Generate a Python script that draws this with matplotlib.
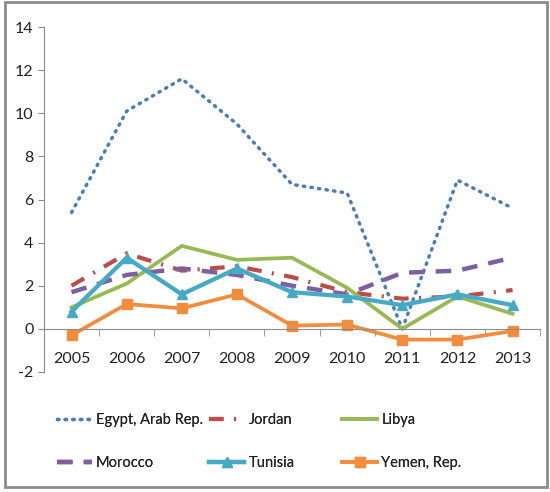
import numpy as np
import matplotlib
matplotlib.use("Agg")
import matplotlib.pyplot as plt
from matplotlib.patches import Rectangle

plt.rcParams["font.family"] = ["Lato", "DejaVu Sans"]
plt.rcParams["axes.unicode_minus"] = False

years = ["2005", "2006", "2007", "2008", "2009", "2010", "2011", "2012", "2013"]
egypt = [5.4, 10.1, 11.6, 9.5, 6.7, 6.3, 0.0, 6.9, 5.6]
jordan = [2.0, 3.5, 2.7, 2.9, 2.4, 1.7, 1.4, 1.5, 1.8]
libya = [1.0, 2.1, 3.85, 3.2, 3.3, 1.9, 0.0, 1.5, 0.7]
morocco = [1.7, 2.5, 2.8, 2.5, 2.0, 1.6, 2.6, 2.7, 3.3]
tunisia = [0.8, 3.3, 1.6, 2.8, 1.7, 1.5, 1.1, 1.6, 1.1]
yemen = [-0.3, 1.15, 0.95, 1.6, 0.15, 0.2, -0.5, -0.5, -0.1]

x = np.arange(len(years))

fig = plt.figure(figsize=(5.5, 4.92), dpi=100)
fig.patches.append(Rectangle((0.009, 0.01), 0.985, 0.985, transform=fig.transFigure,
                             fill=False, edgecolor="#8c8c8c", linewidth=2))
ax = fig.add_axes([0.08, 0.244, 0.902, 0.701])

h_eg, = ax.plot(x, egypt, color="#4A7EBB", linewidth=2.5, linestyle=(0, (0.4, 1.8)),
                dash_capstyle="round", label="Egypt, Arab Rep.")
h_jo, = ax.plot(x, jordan, color="#BE4B48", linewidth=3, linestyle=(0, (3.5, 2.5, 0.5, 2.5)),
                label="Jordan")
h_li, = ax.plot(x, libya, color="#98B954", linewidth=2.7, label="Libya")
h_mo, = ax.plot(x, morocco, color="#7D60A0", linewidth=3.2, linestyle=(0, (3.5, 2.5)),
                label="Morocco")
h_tu, = ax.plot(x, tunisia, color="#46AAC5", linewidth=3.1, marker="^", markersize=7.5,
                label="Tunisia")
h_ye, = ax.plot(x, yemen, color="#F38D3D", linewidth=2.7, marker="s", markersize=7.5,
                label="Yemen, Rep.")

ax.set_xlim(-0.5, len(years) - 0.5)
ax.set_ylim(-2, 14)
ax.set_yticks(range(-2, 15, 2))

for s in ["top", "right"]:
    ax.spines[s].set_visible(False)
ax.spines["left"].set_color("#8c8c8c")
ax.spines["bottom"].set_color("#8c8c8c")
ax.spines["bottom"].set_position(("data", 0))

ax.set_xticks(x)
ax.set_xticklabels(years)
ax.set_xticks(np.arange(-0.5, len(years), 1), minor=True)
ax.tick_params(axis="x", which="major", length=0, pad=17, labelsize=11.5, labelcolor="#222222")
ax.tick_params(axis="x", which="minor", length=5, color="#8c8c8c", direction="out")
ax.tick_params(axis="y", length=4, color="#8c8c8c", labelsize=11.5, labelcolor="#222222")

cols = [(h_eg, h_mo), (h_jo, h_tu), (h_li, h_ye)]
xpos = [0.103, 0.38, 0.622]
for (a, b), xp in zip(cols, xpos):
    leg = fig.legend([a, b], [a.get_label(), b.get_label()], loc="upper left",
                     bbox_to_anchor=(xp, 0.16), frameon=False, fontsize=10.5,
                     handlelength=2.4, handletextpad=0.3, labelspacing=1.95,
                     borderaxespad=0, borderpad=0)
    for t in leg.get_texts():
        t.set_color("#222222")
    fig.add_artist(leg)

fig.savefig("out.png", dpi=100)
